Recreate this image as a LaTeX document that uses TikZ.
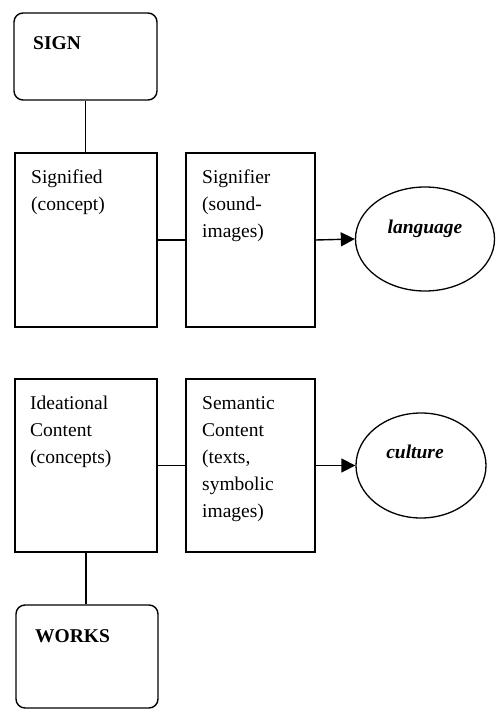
\documentclass[tikz,border=0pt]{standalone}
\usepackage{fontspec}
\setmainfont{Liberation Serif}
\usetikzlibrary{arrows.meta,shapes.geometric}
\tikzset{
  box/.style={draw,line width=1.4pt,rectangle,inner sep=0pt},
  rbox/.style={box,rounded corners=9pt},
  oval/.style={draw,line width=1.3pt,ellipse,inner sep=0pt},
  txt/.style={anchor=north west,inner sep=0pt,align=left,
    font=\fontsize{19.5pt}{27pt}\selectfont},
  btxt/.style={anchor=base west,inner sep=0pt,
    font=\fontsize{19.5pt}{27pt}\selectfont\bfseries},
  itxt/.style={anchor=base,inner sep=0pt,
    font=\fontsize{19.5pt}{27pt}\selectfont\bfseries\itshape},
  link/.style={line width=1.4pt},
  arr/.style={line width=1.4pt,-{Triangle[length=14pt,width=14pt]}}
}
\newcommand{\firstline}{\rule{0pt}{16pt}}
\begin{document}
\begin{tikzpicture}[x=1pt,y=-1pt]
\useasboundingbox (0,0) rectangle (495,709);
% top half
\node[rbox,minimum width=143pt,minimum height=87pt] (sign) at (85.5,56.5) {};
\node[box,minimum width=142pt,minimum height=174pt] (sd) at (86,240) {};
\node[box,minimum width=129pt,minimum height=174pt] (sr) at (250.5,240) {};
\node[oval,minimum width=139pt,minimum height=104pt] (lang) at (425,239) {};
\node[btxt] (signT) at (33,49) {SIGN};
\node[txt] (sdT) at (31,167) {\firstline Signified\\(concept)};
\node[txt] (srT) at (202,167) {\firstline Signifier\\(sound-\\images)};
\node[itxt] (langT) at (425,233) {language};
\draw[link] (sign.south) -- (sign.south |- sd.north);
\draw[link] (sd.east) -- (sr.west);
\draw[arr] (sr.east) -- (lang.west);
% bottom half
\node[box,minimum width=142pt,minimum height=173pt] (id) at (86,465.5) {};
\node[box,minimum width=129pt,minimum height=173pt] (sc) at (250.5,465.5) {};
\node[oval,minimum width=130pt,minimum height=105pt] (cult) at (421,465.5) {};
\node[rbox,minimum width=142pt,minimum height=103pt] (works) at (87,656.5) {};
\node[txt] (idT) at (30,393) {\firstline Ideational\\Content\\(concepts)};
\node[txt] (scT) at (202,393) {\firstline Semantic\\Content\\(texts,\\symbolic\\images)};
\node[itxt] (cultT) at (415,458) {culture};
\node[btxt] (worksT) at (35,642) {WORKS};
\draw[link] (id.east) -- (sc.west);
\draw[arr] (sc.east) -- (cult.west);
\draw[link] (id.south) -- (id.south |- works.north);
\end{tikzpicture}
\end{document}
